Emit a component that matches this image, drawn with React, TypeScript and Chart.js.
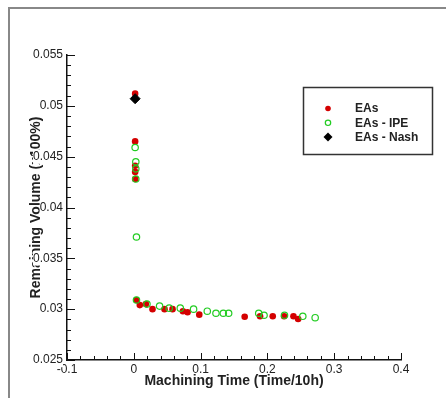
import React, { useEffect, useRef } from "react";
import { Chart, registerables } from "chart.js";

Chart.register(...registerables);

// ---- data ----
const seriesNames = ["EAs", "EAs - IPE", "EAs - Nash"];

const eaTime = [0.002, 0.002, 0.002, 0.002, 0.002, 0.004, 0.009, 0.018, 0.028, 0.046, 0.058, 0.0735, 0.0805, 0.098, 0.166, 0.189, 0.208, 0.225, 0.239, 0.246];
const eaVolume = [0.0512, 0.0465, 0.0441, 0.0435, 0.0428, 0.0309, 0.0304, 0.0305, 0.03, 0.03, 0.03, 0.0298, 0.0297, 0.02946, 0.02926, 0.0293, 0.0293, 0.0293, 0.0293, 0.02903];

const ipeTime = [0.002, 0.003, 0.003, 0.003, 0.004, 0.004, 0.0197, 0.0386, 0.053, 0.0696, 0.0895, 0.11, 0.123, 0.134, 0.142, 0.187, 0.195, 0.2256, 0.253, 0.2715];
const ipeVolume = [0.0459, 0.0445, 0.0438, 0.0428, 0.0371, 0.0309, 0.0305, 0.0303, 0.0301, 0.0301, 0.03, 0.0298, 0.0296, 0.0296, 0.0296, 0.0296, 0.0294, 0.0294, 0.0293, 0.02916];

const nashTime = [0.002];
const nashVolume = [0.0507];

const xTickValues = [-0.1, 0, 0.1, 0.2, 0.3, 0.4];
const yTickValues = [0.025, 0.03, 0.035, 0.04, 0.045, 0.05, 0.055];
const xTitle = "Machining Time (Time/10h)";
const yTitle = "Remaining Volume (x100%)";

// ---- styles ----
const FONT = "'Liberation Sans', Arial, Helvetica, sans-serif";
const RED = "#d40000";
const GREEN = "#22cc22";
const BLACK = "#000000";
const TEXT = "#222222";
const MINOR_DIV = 5;

const toPoints = (xs: number[], ys: number[]) => xs.map((x, i) => ({ x, y: ys[i] }));
const fmt = (v: number) => String(Number(v.toFixed(4)));

const innerTicks = {
  id: "innerTicks",
  beforeDatasetsDraw(chart: any) {
    const { ctx, chartArea } = chart;
    const xs = chart.scales.x;
    const ys = chart.scales.y;
    ctx.save();
    ctx.strokeStyle = "#111";
    ctx.lineWidth = 1;
    const line = (x1: number, y1: number, x2: number, y2: number) => {
      ctx.beginPath();
      ctx.moveTo(x1, y1);
      ctx.lineTo(x2, y2);
      ctx.stroke();
    };
    const b = Math.round(chartArea.bottom);
    const l = Math.round(chartArea.left);
    for (let i = 0; i < xTickValues.length; i++) {
      const v = xTickValues[i];
      const px = Math.round(xs.getPixelForValue(v)) + 0.5;
      line(px, b, px, b - 7);
      if (i < xTickValues.length - 1) {
        const step = (xTickValues[i + 1] - v) / MINOR_DIV;
        for (let k = 1; k < MINOR_DIV; k++) {
          const mx = Math.round(xs.getPixelForValue(v + k * step)) + 0.5;
          line(mx, b, mx, b - 4);
        }
      }
    }
    for (let i = 0; i < yTickValues.length; i++) {
      const v = yTickValues[i];
      const py = Math.round(ys.getPixelForValue(v)) + 0.5;
      line(l, py, l + 8, py);
      if (i < yTickValues.length - 1) {
        const step = (yTickValues[i + 1] - v) / MINOR_DIV;
        for (let k = 1; k < MINOR_DIV; k++) {
          const my = Math.round(ys.getPixelForValue(v + k * step)) + 0.5;
          line(l, my, l + 4, my);
        }
      }
    }
    ctx.restore();
  },
};

const boxLegend = {
  id: "boxLegend",
  afterDraw(chart: any) {
    const { ctx } = chart;
    const box = { x: 303.5, y: 87.5, w: 129, h: 67 };
    ctx.save();
    ctx.fillStyle = "#ffffff";
    ctx.fillRect(box.x, box.y, box.w, box.h);
    ctx.strokeStyle = "#333";
    ctx.lineWidth = 1.5;
    ctx.strokeRect(box.x, box.y, box.w, box.h);
    ctx.font = "bold 12px " + FONT;
    ctx.textBaseline = "middle";
    ctx.textAlign = "left";
    chart.data.datasets.forEach((ds: any, i: number) => {
      const cy = box.y + 21 + i * 14.3;
      const cx = box.x + 24.5;
      ctx.beginPath();
      if (ds.pointStyle === "rectRot") {
        const r = 4.5;
        ctx.moveTo(cx - r, cy);
        ctx.lineTo(cx, cy - r);
        ctx.lineTo(cx + r, cy);
        ctx.lineTo(cx, cy + r);
        ctx.closePath();
        ctx.fillStyle = ds.backgroundColor;
        ctx.fill();
      } else if (ds.backgroundColor === "rgba(0,0,0,0)") {
        ctx.arc(cx, cy, 2.7, 0, Math.PI * 2);
        ctx.strokeStyle = ds.borderColor;
        ctx.lineWidth = 1.2;
        ctx.stroke();
      } else {
        ctx.arc(cx, cy, 2.8, 0, Math.PI * 2);
        ctx.fillStyle = ds.backgroundColor;
        ctx.fill();
      }
      ctx.fillStyle = TEXT;
      ctx.fillText(ds.label, box.x + 51.5, cy + 0.5);
    });
    ctx.restore();
  },
};

export default function App() {
  const ref = useRef<HTMLCanvasElement | null>(null);

  useEffect(() => {
    if (!ref.current) return;
    const chart = new Chart(ref.current, {
      type: "scatter",
      data: {
        datasets: [
          {
            label: seriesNames[0],
            data: toPoints(eaTime, eaVolume),
            pointStyle: "circle",
            pointRadius: 3.3,
            backgroundColor: RED,
            borderColor: RED,
            borderWidth: 0,
            order: 3,
          },
          {
            label: seriesNames[1],
            data: toPoints(ipeTime, ipeVolume),
            pointStyle: "circle",
            pointRadius: 3.2,
            backgroundColor: "rgba(0,0,0,0)",
            borderColor: GREEN,
            borderWidth: 1.2,
            order: 2,
          },
          {
            label: seriesNames[2],
            data: toPoints(nashTime, nashVolume),
            pointStyle: "rectRot",
            pointRadius: 5,
            backgroundColor: BLACK,
            borderColor: BLACK,
            borderWidth: 1,
            order: 1,
          },
        ],
      },
      options: {
        animation: false,
        responsive: false,
        devicePixelRatio: 1,
        events: [],
        layout: { padding: { top: 55, right: 45, left: 0, bottom: 0 } },
        plugins: { legend: { display: false }, tooltip: { enabled: false } },
        scales: {
          x: {
            type: "linear",
            min: xTickValues[0],
            max: xTickValues[xTickValues.length - 1],
            afterBuildTicks: (s: any) => {
              s.ticks = xTickValues.map((value) => ({ value }));
            },
            afterFit: (s: any) => {
              s.height = 38;
            },
            grid: { display: true, drawOnChartArea: false, drawTicks: false },
            border: { display: true, color: "#111", width: 1.5 },
            ticks: {
              padding: 2,
              color: TEXT,
              font: { family: FONT, size: 12 },
              maxRotation: 0,
              callback: (v: any) => fmt(Number(v)),
            },
            title: {
              display: true,
              text: xTitle,
              color: TEXT,
              font: { family: FONT, size: 14, weight: "bold" },
              padding: { top: 0, bottom: 8.6 },
            },
          },
          y: {
            type: "linear",
            min: yTickValues[0],
            max: yTickValues[yTickValues.length - 1],
            afterBuildTicks: (s: any) => {
              s.ticks = yTickValues.map((value) => ({ value }));
            },
            afterFit: (s: any) => {
              s.width = 67;
            },
            grid: { display: true, drawOnChartArea: false, drawTicks: false },
            border: { display: true, color: "#111", width: 1.5 },
            ticks: {
              padding: 4,
              color: TEXT,
              font: { family: FONT, size: 12 },
              showLabelBackdrop: true,
              backdropColor: "#ffffff",
              backdropPadding: 0,
              callback: (v: any) => fmt(Number(v)),
            },
            title: {
              display: true,
              text: yTitle,
              color: TEXT,
              font: { family: FONT, size: 14, weight: "bold" },
              padding: { top: 27.6, bottom: 0 },
            },
          },
        },
      },
      plugins: [innerTicks, boxLegend],
    } as any);
    return () => chart.destroy();
  }, []);

  return (
    <div style={{ position: "fixed", left: 0, top: 0, width: 446, height: 398, background: "#fff", overflow: "hidden" }}>
      <div
        style={{
          position: "absolute",
          left: 8,
          top: 7,
          width: 460,
          height: 420,
          borderLeft: "2px solid #888",
          borderTop: "2px solid #888",
          boxSizing: "border-box",
        }}
      />
      <canvas ref={ref} width={446} height={398} style={{ position: "absolute", left: 0, top: 0 }} />
    </div>
  );
}
